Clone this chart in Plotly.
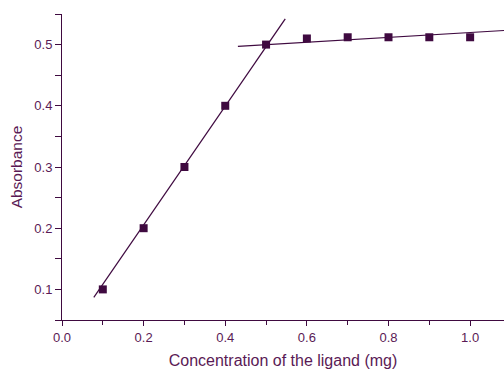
import plotly.graph_objects as go

conc = [0.1, 0.2, 0.3, 0.4, 0.5, 0.6, 0.7, 0.8, 0.9, 1.0]
absorb = [0.100, 0.200, 0.300, 0.400, 0.500, 0.510, 0.512, 0.512, 0.512, 0.512]

fit1_x = [0.078, 0.547]
fit1_y = [0.087, 0.542]
fit2_x = [0.431, 1.083]
fit2_y = [0.497, 0.523]

col = "#3f0a40"
txt = "#5a1a55"

fig = go.Figure()
fig.add_trace(go.Scatter(x=fit1_x, y=fit1_y, mode="lines", line=dict(color=col, width=1.2), hoverinfo="skip"))
fig.add_trace(go.Scatter(x=fit2_x, y=fit2_y, mode="lines", line=dict(color=col, width=1.2), hoverinfo="skip"))
fig.add_trace(go.Scatter(x=conc, y=absorb, mode="markers",
                         marker=dict(symbol="square", size=8, color=col)))

fig.update_layout(
    width=504, height=369,
    margin=dict(l=62, r=0, t=14, b=49),
    plot_bgcolor="white", paper_bgcolor="white",
    showlegend=False,
    font=dict(family="Liberation Sans, Arial, sans-serif", color=txt, size=13),
)
fig.update_xaxes(
    range=[0, 1.083], tick0=0, dtick=0.2, tickformat=".1f",
    showgrid=False, zeroline=False, showline=True, linecolor=col, linewidth=1,
    ticks="outside", ticklen=5, tickcolor=col, automargin=False,
    minor=dict(dtick=0.1, ticks="outside", ticklen=4, tickcolor=col, showgrid=False),
    title=dict(text="Concentration of the ligand (mg)", font=dict(size=16, color=txt), standoff=11),
)
fig.update_yaxes(
    range=[0.05, 0.55], tick0=0.1, dtick=0.1, tickformat=".1f",
    showgrid=False, zeroline=False, showline=True, linecolor=col, linewidth=1,
    ticks="outside", ticklen=6, tickcolor=col, automargin=False,
    minor=dict(dtick=0.05, tick0=0.05, ticks="outside", ticklen=6, tickcolor=col, showgrid=False),
    title=dict(text="Absorbance", font=dict(size=15.5, color=txt), standoff=7),
)
fig.write_html("out.html", config={"displayModeBar": False},
               post_script="document.body.style.margin='0';document.body.style.overflow='hidden';")
